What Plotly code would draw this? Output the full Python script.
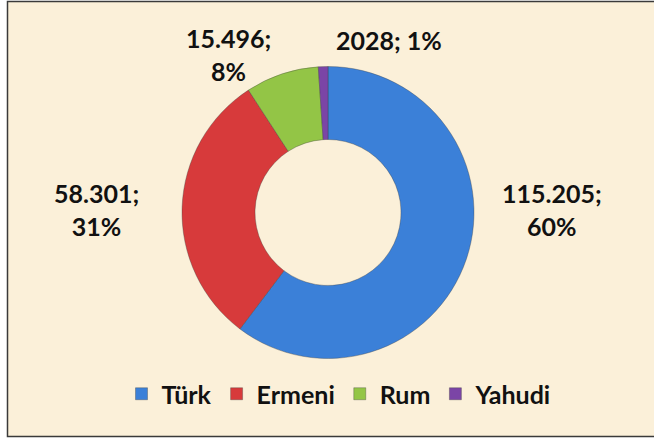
import plotly.graph_objects as go

categories = ["Türk", "Ermeni", "Rum", "Yahudi"]
values = [115205, 58301, 15496, 2028]
value_labels = ["115.205", "58.301", "15.496", "2028"]
label_breaks = ["<br>", "<br>", "<br>", " "]
colors = ["#3b80d8", "#d73a3b", "#93c546", "#7b45a6"]

W, H = 654, 438
# data-label anchor positions (pixels from top-left), layout only
label_pos = [(552, 210), (96, 210), (229, 54), (389, 40)]

total = sum(values)
fig = go.Figure()
fig.add_trace(go.Pie(
    labels=categories,
    values=values,
    textinfo="none",
    hole=0.5,
    sort=False,
    direction="clockwise",
    rotation=0,
    marker=dict(colors=colors, line=dict(color="rgba(60,60,60,0.35)", width=1)),
    domain=dict(x=[182 / W, 474 / W], y=[1 - 358.5 / H, 1 - 66.5 / H]),
    showlegend=True,
    hoverinfo="label+value+percent",
))

for lab, v, br, (px, py) in zip(value_labels, values, label_breaks, label_pos):
    pct = round(100 * v / total)
    fig.add_annotation(
        xref="paper", yref="paper",
        x=px / W, y=1 - py / H,
        xanchor="center", yanchor="middle",
        text=f"{lab};{br}{pct}%",
        showarrow=False, align="center",
        font=dict(family="Lato", size=25, color="#111111", weight="bold"),
    )

fig.add_shape(
    type="rect", xref="paper", yref="paper",
    x0=7.5 / W, x1=1.02, y0=1 - 436.5 / H, y1=1 - 1.5 / H,
    line=dict(color="#3a3a3a", width=1.5),
    fillcolor="#fbf0d9", layer="below",
)

fig.update_layout(
    width=W, height=H,
    margin=dict(l=0, r=0, t=0, b=0, autoexpand=False),
    paper_bgcolor="#ffffff",
    plot_bgcolor="#fbf0d9",
    showlegend=True,
    legend=dict(
        orientation="h",
        x=339 / W, xanchor="center",
        y=1 - 394 / H, yanchor="middle",
        font=dict(family="Lato", size=25, color="#111111", weight="bold"),
        bgcolor="rgba(0,0,0,0)",
        itemclick=False,
        tracegroupgap=0,
    ),
)

fig.write_html(
    "out.html",
    config={"displayModeBar": False},
    post_script="document.body.style.margin='0';document.body.style.overflow='hidden';",
)
